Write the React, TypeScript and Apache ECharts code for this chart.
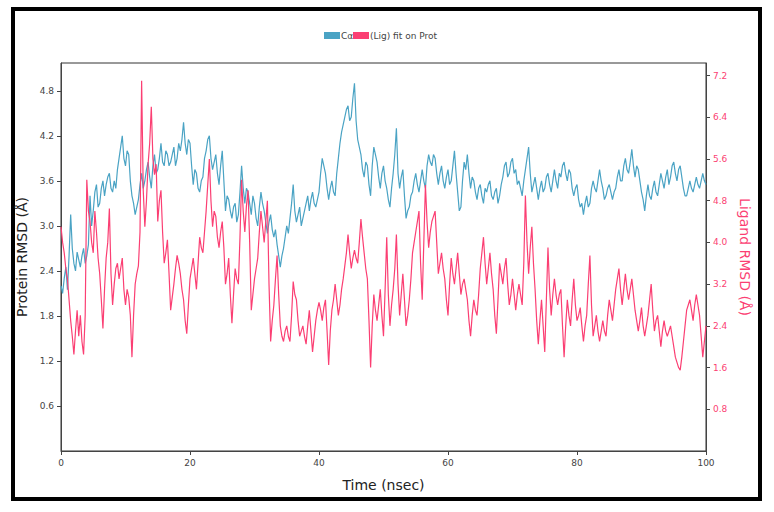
import React, { useEffect, useRef } from "react";
import * as echarts from "echarts";

const TIME_STEP_NS = 0.25;

const proteinRmsd = [
  2.2, 2.1, 2.3, 2.45, 2.15, 2.6, 3.15, 2.7, 2.5, 2.4, 2.65, 2.55, 2.45, 2.6, 2.7, 2.5, 2.6, 2.75, 3.4, 3.0,
  3.2, 3.45, 3.55, 3.25, 3.3, 3.5, 3.6, 3.4, 3.55, 3.65, 3.7, 3.5, 3.45, 3.6, 3.5, 3.75, 3.9, 4.05, 4.2, 3.9,
  3.8, 4.0, 3.95, 3.6, 3.4, 3.3, 3.15, 3.25, 3.35, 3.55, 3.7, 3.5, 3.6, 3.75, 3.85, 3.65, 3.5, 3.8, 3.95, 3.7,
  3.75, 3.9, 4.1, 3.85, 3.8, 4.0, 3.95, 3.8, 3.85, 3.95, 4.05, 3.8, 3.9, 4.1, 4.0, 4.15, 4.38, 4.1, 3.95, 4.15,
  4.1, 3.8, 3.55, 3.75, 3.7, 3.5, 3.45, 3.6, 3.65, 3.9, 4.0, 4.15, 4.2, 3.9, 3.75, 3.85, 3.95, 3.7, 3.55, 3.8,
  4.0, 3.6, 3.2, 3.4, 3.35, 3.2, 3.1, 3.25, 3.3, 3.05, 3.15, 3.45, 3.8, 3.5, 3.3, 3.5, 3.45, 3.3, 3.15, 3.4,
  3.3, 3.1, 3.0, 3.25, 3.45, 3.3, 3.2, 3.05, 2.9, 3.05, 3.15, 2.95, 2.85, 2.95, 2.75, 2.6, 2.45, 2.6, 2.7, 2.85,
  3.0, 2.9, 3.1, 3.3, 3.55, 3.2, 3.05, 3.15, 3.25, 3.0, 3.1, 3.2, 3.3, 3.4, 3.2, 3.35, 3.45, 3.3, 3.25, 3.35,
  3.45, 3.7, 3.9, 3.8, 3.7, 3.5, 3.35, 3.5, 3.6, 3.45, 3.4, 3.7, 3.9, 4.1, 4.25, 4.35, 4.45, 4.55, 4.6, 4.4,
  4.45, 4.7, 4.9, 4.4, 4.15, 4.05, 3.95, 3.75, 3.65, 3.85, 3.8, 3.55, 3.4, 3.8, 4.05, 3.95, 3.85, 3.65, 3.5, 3.7,
  3.8, 3.6, 3.5, 3.35, 3.25, 3.5, 3.7, 3.95, 4.3, 3.7, 3.5, 3.65, 3.75, 3.4, 3.1, 3.2, 3.25, 3.4, 3.45, 3.6,
  3.7, 3.55, 3.45, 3.6, 3.75, 3.6, 3.5, 3.8, 3.95, 3.85, 3.8, 3.95, 3.9, 3.7, 3.55, 3.7, 3.8, 3.6, 3.5, 3.65,
  3.75, 3.55, 3.6, 3.8, 4.0, 3.7, 3.45, 3.2, 3.25, 3.6, 3.85, 3.75, 3.95, 3.7, 3.5, 3.65, 3.6, 3.45, 3.35, 3.5,
  3.55, 3.4, 3.3, 3.5, 3.45, 3.55, 3.6, 3.4, 3.35, 3.45, 3.5, 3.3, 3.4, 3.55, 3.65, 3.8, 3.85, 3.65, 3.7, 3.85,
  3.9, 3.7, 3.75, 3.55, 3.6, 3.5, 3.4, 3.6, 3.75, 3.9, 4.05, 3.7, 3.45, 3.55, 3.65, 3.5, 3.35, 3.5, 3.6, 3.45,
  3.5, 3.65, 3.7, 3.55, 3.45, 3.6, 3.75, 3.6, 3.5, 3.7, 3.65, 3.8, 3.85, 3.7, 3.6, 3.75, 3.7, 3.5, 3.4, 3.5,
  3.55, 3.35, 3.25, 3.3, 3.15, 3.3, 3.4, 3.25, 3.3, 3.5, 3.6, 3.5, 3.45, 3.6, 3.75, 3.6, 3.5, 3.35, 3.4, 3.5,
  3.55, 3.45, 3.35, 3.45, 3.5, 3.65, 3.75, 3.6, 3.6, 3.8, 3.9, 3.75, 3.7, 3.85, 4.02, 3.8, 3.65, 3.8, 3.75, 3.6,
  3.45, 3.35, 3.2, 3.4, 3.55, 3.4, 3.35, 3.5, 3.6, 3.45, 3.4, 3.55, 3.7, 3.6, 3.5, 3.65, 3.75, 3.55, 3.65, 3.8,
  3.85, 3.7, 3.6, 3.75, 3.8, 3.65, 3.5, 3.4, 3.4, 3.5, 3.6, 3.5, 3.45, 3.55, 3.65, 3.55, 3.5, 3.6, 3.7, 3.6,
  3.55,
];

const ligandRmsd = [
  4.3, 4.0, 3.8, 3.5, 3.3, 2.9, 2.5, 2.2, 1.85, 2.3, 2.7, 2.2, 2.6, 2.1, 1.85, 2.6, 5.2, 4.6, 4.4, 4.0,
  3.8, 4.6, 4.2, 3.7, 3.4, 2.9, 2.35, 3.1, 3.7, 4.0, 4.65, 3.4, 2.8, 3.2, 3.5, 3.6, 3.3, 3.5, 3.7, 3.1,
  2.8, 3.1, 2.95, 2.6, 1.8, 2.6, 3.2, 3.4, 3.55, 4.2, 7.1, 5.0, 4.3, 4.8, 5.5, 5.9, 6.6, 5.6, 5.3, 5.5,
  4.4, 4.8, 5.0, 4.2, 3.6, 3.8, 4.05, 3.4, 2.7, 2.95, 3.2, 3.5, 3.75, 3.6, 3.4, 3.1, 2.9, 2.5, 2.25, 2.8,
  3.3, 3.5, 3.7, 3.4, 3.1, 3.6, 4.1, 3.9, 3.8, 4.2, 4.6, 5.1, 5.6, 4.8, 4.3, 4.6, 4.5, 4.1, 3.9, 4.2,
  4.4, 3.9, 3.2, 3.4, 3.7, 3.0, 2.45, 3.0, 3.5, 3.3, 3.2, 4.1, 5.2, 4.6, 4.2, 4.7, 5.0, 4.0, 2.7, 3.0,
  3.3, 3.5, 3.7, 4.2, 4.6, 4.3, 4.0, 4.4, 4.8, 3.2, 2.1, 2.5, 2.8, 3.3, 3.75, 3.0, 2.4, 2.2, 2.1, 2.3,
  2.4, 2.2, 2.1, 2.6, 3.25, 3.0, 2.9, 2.5, 2.2, 2.3, 2.4, 2.2, 2.05, 2.4, 2.7, 2.3, 1.9, 2.2, 2.5, 2.7,
  2.85, 2.7, 2.5, 2.75, 2.9, 2.3, 1.65, 2.3, 2.7, 2.9, 3.2, 2.9, 2.6, 2.8, 3.1, 3.3, 3.55, 3.8, 4.15, 3.8,
  3.5, 3.7, 3.85, 3.7, 3.6, 4.0, 4.45, 4.1, 3.8, 3.5, 3.3, 2.5, 1.6, 2.4, 3.0, 2.7, 2.5, 2.8, 3.1, 2.6,
  2.2, 3.1, 4.1, 3.0, 2.4, 2.8, 3.1, 3.5, 4.15, 3.2, 2.6, 3.0, 3.4, 2.9, 2.4, 2.6, 2.9, 3.3, 3.8, 4.0,
  4.2, 4.4, 4.6, 3.6, 2.9, 4.0, 5.1, 4.4, 3.9, 4.2, 4.4, 4.5, 4.6, 4.0, 3.4, 3.6, 3.8, 3.5, 3.3, 2.9,
  2.6, 3.2, 3.7, 3.4, 3.2, 3.5, 3.8, 3.4, 3.0, 3.2, 3.3, 3.1, 2.9, 2.5, 2.2, 2.6, 2.9, 2.7, 2.6, 3.0,
  3.5, 3.8, 4.1, 3.6, 3.2, 3.5, 3.8, 3.4, 3.1, 2.6, 2.25, 2.9, 3.6, 3.4, 3.2, 3.5, 3.7, 3.2, 2.8, 3.0,
  3.3, 3.0, 2.7, 3.0, 3.2, 3.0, 2.8, 3.6, 4.9, 4.0, 3.4, 3.9, 4.3, 3.6, 3.1, 2.5, 2.05, 2.5, 2.9, 2.4,
  1.9, 2.9, 3.9, 3.1, 2.6, 3.0, 3.3, 3.0, 2.8, 3.0, 3.1, 2.4, 1.8, 2.4, 2.9, 2.6, 2.4, 2.9, 3.3, 2.8,
  2.5, 2.6, 2.75, 2.4, 2.1, 2.4, 2.6, 3.2, 3.75, 2.8, 2.2, 2.4, 2.6, 2.3, 2.1, 2.3, 2.5, 2.3, 2.2, 2.6,
  2.9, 2.7, 2.5, 2.8, 3.1, 3.3, 3.5, 3.1, 2.8, 3.1, 3.4, 3.1, 2.9, 3.1, 3.3, 3.0, 2.7, 2.5, 2.3, 2.5,
  2.75, 2.4, 2.2, 2.4, 2.6, 2.9, 3.2, 2.7, 2.3, 2.5, 2.6, 2.3, 2.0, 2.3, 2.5, 2.3, 2.2, 2.3, 2.4, 2.2,
  2.0, 1.8, 1.7, 1.6, 1.55, 1.8, 2.1, 2.4, 2.7, 2.8, 2.9, 2.7, 2.5, 2.8, 3.0, 2.8, 2.6, 2.2, 1.8, 2.1,
  2.4,
];

const proteinTicks = [0.6, 1.2, 1.8, 2.4, 3.0, 3.6, 4.2, 4.8];
const ligandTicks = [0.8, 1.6, 2.4, 3.2, 4.0, 4.8, 5.6, 6.4, 7.2];

const BLUE = "#4aa3c4";
const PINK = "#fb3f73";

export default function App() {
  const ref = useRef<HTMLDivElement>(null);

  useEffect(() => {
    document.body.style.margin = "0";
    if (!ref.current) return;
    const chart = echarts.init(ref.current, null, { renderer: "svg" });

    const protData = proteinRmsd.map((v, i) => [i * TIME_STEP_NS, v]);
    const ligData = ligandRmsd.map((v, i) => [i * TIME_STEP_NS, v]);

    const tickLabelStyle = {
      fontFamily: "DejaVu Sans",
      fontSize: 9,
    };

    chart.setOption({
      animation: false,
      backgroundColor: "#ffffff",
      grid: {
        left: 61,
        right: 68,
        top: 63,
        bottom: 61,
        show: true,
        borderColor: "#333333",
        borderWidth: 1,
      },
      xAxis: {
        type: "value",
        min: 0,
        max: 100,
        interval: 20,
        name: "Time (nsec)",
        nameLocation: "middle",
        nameGap: 27,
        nameTextStyle: { fontFamily: "DejaVu Sans", fontSize: 14, color: "#222" },
        axisLine: { show: true, lineStyle: { color: "#444", width: 1 } },
        axisTick: { show: true, length: 4, lineStyle: { color: "#444" } },
        axisLabel: { ...tickLabelStyle, color: "#444", margin: 7 },
        splitLine: { show: false },
      },
      yAxis: [
        {
          type: "value",
          min: 0,
          max: 5.17,
          position: "left",
          name: "Protein RMSD (Å)",
          nameLocation: "middle",
          nameRotate: 90,
          nameGap: 30,
          nameTextStyle: { fontFamily: "DejaVu Sans", fontSize: 14, color: "#222" },
          axisLine: { show: true, lineStyle: { color: "#444", width: 1 } },
          axisTick: { show: true, length: 4, customValues: proteinTicks, lineStyle: { color: "#444" } },
          axisLabel: {
            ...tickLabelStyle,
            color: "#444",
            margin: 7,
            customValues: proteinTicks,
            formatter: (v: number) => v.toFixed(1),
          },
          splitLine: { show: false },
        },
        {
          type: "value",
          min: 0,
          max: 7.44,
          position: "right",
          name: "Ligand RMSD (Å)",
          nameLocation: "middle",
          nameRotate: -90,
          nameGap: 29,
          nameTextStyle: { fontFamily: "DejaVu Sans", fontSize: 14, color: PINK },
          axisLine: { show: true, lineStyle: { color: "#444", width: 1 } },
          axisTick: { show: true, length: 4, customValues: ligandTicks, lineStyle: { color: "#444" } },
          axisLabel: {
            ...tickLabelStyle,
            color: PINK,
            margin: 7,
            customValues: ligandTicks,
            formatter: (v: number) => v.toFixed(1),
          },
          splitLine: { show: false },
        },
      ],
      series: [
        {
          name: "Cα",
          type: "line",
          yAxisIndex: 0,
          data: protData,
          showSymbol: false,
          lineStyle: { color: BLUE, width: 1.2 },
          itemStyle: { color: BLUE },
          z: 2,
        },
        {
          name: "(Lig) fit on Prot",
          type: "line",
          yAxisIndex: 1,
          data: ligData,
          showSymbol: false,
          lineStyle: { color: PINK, width: 1.2 },
          itemStyle: { color: PINK },
          z: 3,
        },
      ],
      graphic: [
        {
          type: "rect",
          shape: { x: 13, y: 9, width: 747, height: 490 },
          style: { fill: "none", stroke: "#000", lineWidth: 4 },
          silent: true,
        },
        {
          type: "rect",
          shape: { x: 324, y: 32, width: 16, height: 7 },
          style: { fill: BLUE },
        },
        {
          type: "text",
          x: 341,
          y: 35.5,
          style: {
            text: "Cα",
            fontFamily: "DejaVu Sans",
            fontSize: 9,
            fill: "#444",
            verticalAlign: "middle",
          },
        },
        {
          type: "rect",
          shape: { x: 353, y: 32, width: 16, height: 7 },
          style: { fill: PINK },
        },
        {
          type: "text",
          x: 370,
          y: 35.5,
          style: {
            text: "(Lig) fit on Prot",
            fontFamily: "DejaVu Sans",
            fontSize: 9,
            fill: "#444",
            verticalAlign: "middle",
          },
        },
      ],
    });

    return () => chart.dispose();
  }, []);

  return <div ref={ref} style={{ width: 774, height: 512 }} />;
}
